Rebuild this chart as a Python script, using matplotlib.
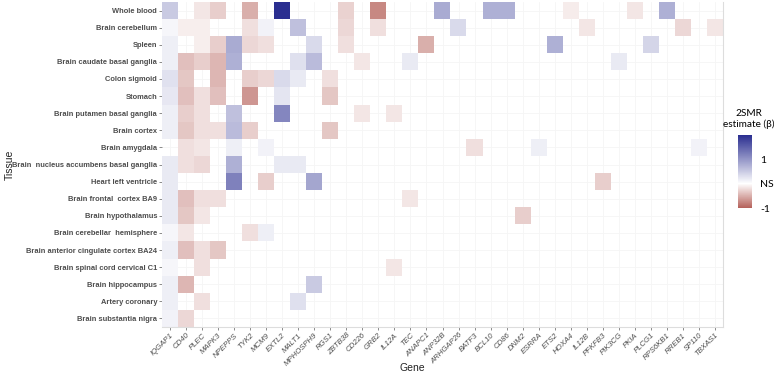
import matplotlib
matplotlib.use("Agg")
import matplotlib.pyplot as plt
import numpy as np
from matplotlib.colors import LinearSegmentedColormap, Normalize
from matplotlib.cm import ScalarMappable

genes = ["IQGAP1", "CD40", "PLEC", "MAPK3", "NPEPPS", "TYK2", "MCM9", "EXTL2",
         "MALT1", "MPHOSPH9", "RGS1", "ZBTB38", "CD226", "GRB2", "IL12A", "TEC",
         "ANAPC1", "ANP32B", "ARHGAP26", "BATF3", "BCL10", "CD86", "DNM2",
         "ESRRA", "ETS2", "HOXA4", "IL12B", "PFKFB3", "PIK3CG", "PKIA", "PLCG1",
         "RPS6KB1", "RREB1", "SP110", "TBXAS1"]

tissues = ["Whole blood", "Brain cerebellum", "Spleen",
           "Brain caudate basal ganglia", "Colon sigmoid", "Stomach",
           "Brain putamen basal ganglia", "Brain cortex", "Brain amygdala",
           "Brain  nucleus accumbens basal ganglia", "Heart left ventricle",
           "Brain frontal  cortex BA9", "Brain hypothalamus",
           "Brain cerebellar  hemisphere",
           "Brain anterior cingulate cortex BA24",
           "Brain spinal cord cervical C1", "Brain hippocampus",
           "Artery coronary", "Brain substantia nigra"]

# significant estimates only (everything else is NS)
cell_tissue = (
    ["Whole blood"] * 13
    + ["Brain cerebellum"] * 12
    + ["Spleen"] * 11
    + ["Brain caudate basal ganglia"] * 10
    + ["Colon sigmoid"] * 8
    + ["Stomach"] * 7
    + ["Brain putamen basal ganglia"] * 7
    + ["Brain cortex"] * 7
    + ["Brain amygdala"] * 7
    + ["Brain  nucleus accumbens basal ganglia"] * 6
    + ["Heart left ventricle"] * 5
    + ["Brain frontal  cortex BA9"] * 5
    + ["Brain hypothalamus"] * 4
    + ["Brain cerebellar  hemisphere"] * 4
    + ["Brain anterior cingulate cortex BA24"] * 4
    + ["Brain spinal cord cervical C1"] * 3
    + ["Brain hippocampus"] * 3
    + ["Artery coronary"] * 3
    + ["Brain substantia nigra"] * 2
)
cell_gene = [
    "IQGAP1", "PLEC", "MAPK3", "TYK2", "EXTL2", "ZBTB38", "GRB2", "ANP32B",
    "BCL10", "CD86", "HOXA4", "PKIA", "RPS6KB1",
    "IQGAP1", "CD40", "PLEC", "TYK2", "MCM9", "MALT1", "ZBTB38", "GRB2",
    "ARHGAP26", "IL12B", "RREB1", "TBXAS1",
    "IQGAP1", "PLEC", "MAPK3", "NPEPPS", "TYK2", "MCM9", "MPHOSPH9", "ZBTB38",
    "ANAPC1", "ETS2", "PLCG1",
    "IQGAP1", "CD40", "PLEC", "MAPK3", "NPEPPS", "MALT1", "MPHOSPH9", "CD226",
    "TEC", "PIK3CG",
    "IQGAP1", "CD40", "MAPK3", "TYK2", "MCM9", "EXTL2", "MALT1", "RGS1",
    "IQGAP1", "CD40", "PLEC", "MAPK3", "TYK2", "EXTL2", "RGS1",
    "IQGAP1", "CD40", "PLEC", "NPEPPS", "EXTL2", "CD226", "IL12A",
    "IQGAP1", "CD40", "PLEC", "MAPK3", "NPEPPS", "TYK2", "RGS1",
    "CD40", "PLEC", "NPEPPS", "MCM9", "BATF3", "ESRRA", "SP110",
    "IQGAP1", "CD40", "PLEC", "NPEPPS", "EXTL2", "MALT1",
    "IQGAP1", "NPEPPS", "MCM9", "MPHOSPH9", "PFKFB3",
    "IQGAP1", "CD40", "PLEC", "MAPK3", "TEC",
    "IQGAP1", "CD40", "PLEC", "DNM2",
    "IQGAP1", "CD40", "TYK2", "MCM9",
    "IQGAP1", "CD40", "PLEC", "MAPK3",
    "IQGAP1", "PLEC", "IL12A",
    "IQGAP1", "CD40", "MPHOSPH9",
    "IQGAP1", "PLEC", "MALT1",
    "IQGAP1", "CD40",
]
cell_beta = [
    0.5, -0.15, -0.3, -0.5, 2.0, -0.28, -0.75, 0.8, 0.75, 0.75, -0.12, -0.15, 0.75,
    0.08, -0.1, -0.1, -0.2, 0.12, 0.6, -0.25, -0.2, 0.35, -0.15, -0.25, -0.15,
    0.15, -0.1, -0.3, 0.8, -0.25, -0.2, 0.35, -0.2, -0.5, 0.75, 0.4,
    0.15, -0.4, -0.3, -0.45, 0.75, 0.3, 0.65, -0.15, 0.2, 0.2,
    0.28, -0.35, -0.45, -0.3, -0.25, 0.35, 0.2, -0.2,
    0.22, -0.4, -0.2, -0.4, -0.65, 0.25, -0.35,
    0.15, -0.3, -0.2, 0.6, 1.15, -0.15, -0.15,
    0.15, -0.35, -0.2, -0.2, 0.65, -0.3, -0.35,
    -0.2, -0.15, 0.15, 0.12, -0.2, 0.15, 0.12,
    0.2, -0.2, -0.25, 0.75, 0.2, 0.2,
    0.2, 1.2, -0.3, 0.85, -0.3,
    0.2, -0.4, -0.2, -0.2, -0.15,
    0.2, -0.35, -0.15, -0.3,
    0.08, -0.15, -0.2, 0.15,
    0.15, -0.4, -0.2, -0.35,
    0.08, -0.2, -0.15,
    0.15, -0.45, 0.5,
    0.15, -0.2, 0.3,
    0.12, -0.25,
]

mat = np.full((len(tissues), len(genes)), np.nan)
for t, g, b in zip(cell_tissue, cell_gene, cell_beta):
    mat[tissues.index(t), genes.index(g)] = b

cmap = LinearSegmentedColormap.from_list(
    "mr", [(0.0, "#b5615a"), (1 / 3, "#ffffff"), (1.0, "#2a2e90")])
norm = Normalize(vmin=-1, vmax=2)

fig = plt.figure(figsize=(7.77, 3.73), dpi=100)
ax = fig.add_axes([0.2085, 0.1233, 0.722, 0.8713])

ax.set_xticks(np.arange(len(genes)))
ax.set_yticks(np.arange(len(tissues)))
ax.grid(True, color="#f5f5f5", linewidth=0.6)
ax.set_axisbelow(True)
ax.imshow(mat, cmap=cmap, norm=norm, aspect="auto", interpolation="nearest",
          zorder=2)
ax.set_xlim(-0.5, len(genes) - 0.5)
ax.set_ylim(len(tissues) - 0.5, -0.5)

ax.set_xticklabels(genes, rotation=45, ha="right", rotation_mode="anchor",
                   fontsize=5.6, style="italic", color="#4d4d4d",
                   family="Liberation Sans")
ax.set_yticklabels(tissues, fontsize=5.4, fontweight="bold", color="#4d4d4d",
                   family="Liberation Sans")
ax.tick_params(length=2, width=0.6, color="#777777", pad=1.5)

for side in ["top", "left"]:
    ax.spines[side].set_visible(False)
for side in ["right", "bottom"]:
    ax.spines[side].set_color("#dddddd")
    ax.spines[side].set_linewidth(0.8)

fig.text(412 / 777, 1 - 368 / 373, "Gene", ha="center", va="center",
         fontsize=7.5, color="#222222", family="Liberation Sans")
fig.text(10 / 777, 0.558, "Tissue", ha="center", va="center", rotation=90,
         fontsize=7.5, color="#222222", family="Liberation Sans")

# colour bar
cax = fig.add_axes([738 / 777, 1 - 208 / 373, 14 / 777, 73 / 373])
cb = fig.colorbar(ScalarMappable(norm=norm, cmap=cmap), cax=cax,
                  ticks=[-1, 0, 1])
cb.outline.set_visible(False)
cb.ax.set_yticklabels(["-1", "NS", "1"])
cb.ax.tick_params(length=0, labelsize=7.5, pad=6)
for lbl in cb.ax.get_yticklabels():
    lbl.set_family("Lato")
fig.text(749 / 777, 1 - 119 / 373, "2SMR\nestimate (β)", ha="center",
         va="center", fontsize=7.2, family="Lato", linespacing=1.3)

fig.savefig("out.png", dpi=100)
